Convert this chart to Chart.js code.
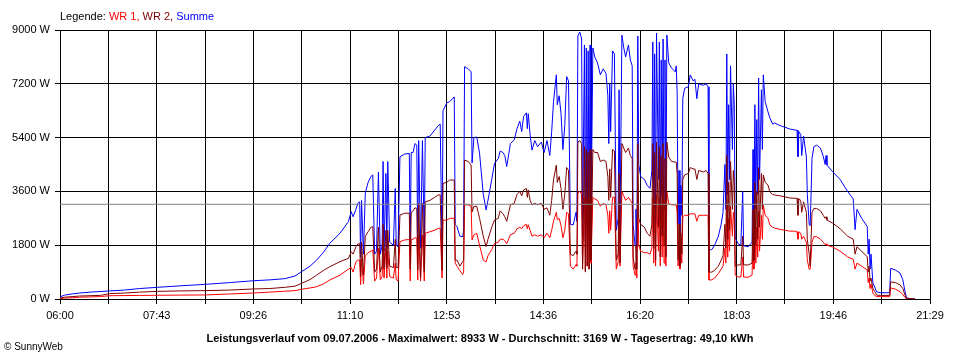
<!DOCTYPE html>
<html>
<head>
<meta charset="utf-8">
<script src="https://cdn.jsdelivr.net/npm/chart.js@4"></script>
<style>
  body { margin: 0; background: #fff; }
  #wrap { position: relative; width: 960px; height: 360px; font-family: "Liberation Sans", Arial, sans-serif; }
  #legend { position: absolute; left: 60px; top: 9px; font-size: 11px; line-height: 14px; }
  #title { position: absolute; left: 0; width: 960px; top: 331px; font-size: 11px; line-height: 14px; font-weight: bold; text-align: center; }
  #copy { position: absolute; left: 4px; top: 340px; font-size: 10px; line-height: 13px; }
</style>
</head>
<body>
<div id="wrap">
  <canvas id="chart" width="960" height="360"></canvas>
  <div id="legend">Legende: <span style="color:#ff0000">WR 1,</span> <span style="color:#800000">WR 2,</span> <span style="color:#0000ff">Summe</span></div>
  <div id="title">Leistungsverlauf vom 09.07.2006 - Maximalwert: 8933 W - Durchschnitt: 3169 W - Tagesertrag: 49,10 kWh</div>
  <div id="copy">© SunnyWeb</div>
</div>
<script>
// minutes after 06:00
const minutes = [0,5,13,21,32,43,53,69,85,104,128,155,182,206,224,240,251,258,267,274,281,288,299,308,311,313,316,318,320,321,322,324,326,329,332,334,336,338,340,342,344,345,346,348,349,350,352,356,358,359,361,363,368,373,374,375,377,379,381,382,383,385,387,389,390,395,400,404,406,408,409,413,416,421,422,424,427,430,431,432,436,439,440,442,445,448,452,455,457,461,464,468,470,473,475,477,481,485,488,491,493,495,498,499,500,502,504,507,510,514,517,520,523,525,527,530,531,533,535,537,539,541,543,545,548,551,552,553,555,557,558,560,561,562,563,564,565,566,567,569,571,574,577,580,583,585,586,587,588,590,592,594,596,597,598,600,602,604,607,609,611,612,614,615,616,617,618,620,624,627,630,632,633,634,635,636,637,639,640,641,642,643,644,645,646,647,648,650,653,657,658,659,660,661,662,663,664,665,667,671,673,676,678,680,682,687,690,692,693,696,699,703,706,708,710,711,712,713,714,715,716,718,719,720,721,724,727,729,730,735,739,740,741,742,743,744,745,746,747,749,750,751,753,756,758,761,763,769,774,779,785,787,788,789,791,792,794,797,798,800,801,802,803,805,808,812,815,817,818,819,825,833,841,847,849,851,856,862,863,864,865,866,868,870,872,876,881,886,887,892,897,900,902,904,910,913];

const wr1 = [10,30,40,60,70,80,110,115,120,125,130,135,170,200,230,260,280,325,370,410,500,635,800,1000,1050,900,1250,1300,1300,480,1350,500,1450,1550,1600,1640,600,700,1700,650,750,1900,700,1700,700,1600,750,700,1200,650,600,1920,1975,1990,600,2000,2000,2050,2030,635,2140,600,2140,600,2200,2250,2300,2365,2365,700,2640,2640,2700,2700,1200,1100,950,820,900,3150,3150,3100,1975,2150,2200,1800,1300,1240,1450,1650,1860,1900,2000,2000,1950,1850,2150,2200,2350,2400,2350,2450,2500,2350,2480,2300,2100,2150,2100,2150,2050,2200,2050,2300,2600,2900,2650,2700,2450,2050,2300,2900,2850,1100,1000,1150,1100,3550,3600,3500,1000,3400,950,3400,1100,3300,1000,3400,1200,3400,3350,3300,3100,3200,3150,2800,2200,2950,2300,3400,3400,1000,1250,2900,1100,3600,3450,3300,3400,3300,3200,1100,800,1200,700,3500,1800,1600,1550,1550,1500,1700,3400,1200,3300,1100,3500,1600,3400,1100,3200,1400,3500,1200,3300,1100,3580,3200,3150,3150,3150,2900,1100,1700,1000,1500,1200,2750,2800,2800,2850,2850,2850,2600,2800,2800,2800,2800,635,640,700,850,1000,1100,1700,1200,3200,1400,2700,1600,3100,2100,2900,2600,800,740,730,1400,730,730,800,2000,1000,2600,1200,2400,1400,2950,1600,2800,2000,3150,2800,2700,2475,2400,2370,2330,2300,2270,2270,2250,2000,2250,2200,2000,2100,1900,1300,1000,1000,1400,1900,2085,2085,2000,1900,1820,1850,1800,1740,1600,1410,1330,1000,1200,1100,970,550,700,350,500,200,120,80,80,80,80,370,330,240,150,60,10,0,0];

const wr2 = [30,60,80,100,110,120,180,200,230,255,270,280,300,335,350,390,430,525,650,800,950,1080,1250,1360,1580,1500,1750,1840,1850,750,1900,800,2100,2250,2400,2420,900,1000,2400,900,1100,2500,1000,2300,1050,2300,1100,1050,2000,1050,1050,2810,2870,2870,1000,2900,2950,3050,3030,970,3200,700,3200,900,3250,3300,3400,3480,3480,950,3870,3900,3980,3980,1300,1300,1100,1250,1300,4650,4600,4480,2910,3100,3100,2700,2100,1750,2000,2400,2640,2700,2950,2850,2750,2600,3150,3200,3500,3600,3450,3650,3700,3400,3650,3300,3150,3200,3150,3200,3000,3050,2800,3300,4000,4480,3900,4100,3700,3000,3500,4400,4300,1500,1450,1600,1500,5250,5300,5200,1000,5100,900,5000,1100,4900,1000,5000,1300,5000,4900,4900,4600,4650,4600,4100,3300,4350,3400,5000,4950,1300,1500,4200,1200,5200,5050,4900,5050,4800,4700,1400,1000,1800,1000,5200,2700,2500,2400,2200,2100,2500,5200,1700,4900,1300,5250,2400,5100,1400,4800,2100,5200,1800,4700,1400,5250,4750,4600,4580,4580,4200,1300,2500,1100,2200,1500,4000,4150,4200,4400,4350,4350,4000,4300,4250,4300,4200,900,900,960,1100,1300,1450,2500,1700,4800,2000,3900,2300,4600,3000,4300,3900,1100,1140,1140,2100,1140,1140,1200,3000,1300,3900,1800,3600,2000,4400,2400,4200,3000,4150,3900,3810,3580,3500,3480,3450,3420,3380,3370,3370,2800,3350,3300,2900,3250,2900,2000,1500,1100,2000,2900,3030,3030,2950,2800,2700,2750,2640,2540,2350,2100,2000,1500,1750,1600,1410,900,1100,600,700,350,250,130,120,120,120,570,550,470,350,150,20,0,0];

const summe = [70,130,170,200,230,250,270,300,350,390,440,490,550,610,640,680,770,915,1100,1300,1550,1860,2200,2590,2920,2750,3000,3200,3250,1400,3300,1500,3550,3900,4100,4150,1500,1600,4250,1500,1800,4600,1600,4200,1700,4600,1900,1800,3700,1800,1750,4760,4850,4870,1650,4900,4900,5200,5150,1640,5300,1700,5300,1800,5400,5450,5650,5800,5850,1640,6300,6560,6600,6760,2500,2420,2100,2085,2300,7770,7700,7600,4550,5400,5420,4880,3500,2980,3300,4000,4540,4700,4950,4900,4800,4430,5200,5320,5700,5950,5600,6100,6230,5700,6200,5500,4980,5300,5100,5250,4900,5300,4800,5600,6600,7500,6500,6800,6200,5000,5800,7440,7300,2500,2480,2900,2600,8800,8933,8700,2100,8500,1900,8400,2300,8300,2100,8500,2500,8400,8100,7900,7500,7700,7550,6800,5200,7200,5600,8300,8200,2300,2700,7000,2400,8830,8400,8100,8500,8000,7800,2500,1800,3000,1700,8800,4500,4100,4000,3800,3700,4300,8600,3000,8200,2500,8900,4000,8600,2500,8000,3500,8700,3000,8000,2500,8830,7900,7730,7600,7800,6900,2500,4300,2200,3800,2800,6700,7050,7100,7500,7300,7350,6700,7200,7150,7200,7100,1640,1650,1800,2100,2500,2900,4500,3000,8200,3500,6500,4000,7800,5000,7200,6500,2040,1850,1800,3600,1780,1750,1900,5000,2300,6500,3000,6000,3500,7390,4000,7000,5000,7500,6600,6260,6060,5850,5890,5800,5750,5690,5650,5650,4760,5600,5500,4800,5450,4750,3500,2500,2450,3500,4700,5100,5150,5050,4780,4500,4800,4480,4260,4000,3600,3350,2320,3000,2700,2420,1500,2000,1000,1500,540,400,240,210,210,210,1025,970,870,640,300,30,10,0];

const average = 3169;
const xTickLabels = ['06:00', '07:43', '09:26', '11:10', '12:53', '14:36', '16:20', '18:03', '19:46', '21:29'];
const yTickValues = [0, 1800, 3600, 5400, 7200, 9000];
const dayLength = 929; // 06:00 .. 21:29

function points(values) {
  return minutes.map((m, i) => ({ x: m, y: values[i] }));
}

const font = { family: '"Liberation Sans", Arial, sans-serif', size: 11 };

// first dataset is drawn on top: average, WR 2, WR 1, Summe
new Chart(document.getElementById('chart'), {
  type: 'line',
  data: {
    datasets: [
      { label: 'Durchschnitt', data: [{ x: 0, y: average }, { x: dayLength, y: average }], borderColor: '#808080' },
      { label: 'WR 2', data: points(wr2), borderColor: '#800000' },
      { label: 'WR 1', data: points(wr1), borderColor: '#ff0000' },
      { label: 'Summe', data: points(summe), borderColor: '#0000ff' }
    ]
  },
  options: {
    responsive: false,
    animation: false,
    events: [],
    layout: { padding: { top: 30, right: 30, left: 0, bottom: 0 } },
    elements: {
      line: { borderWidth: 1, tension: 0 },
      point: { radius: 0 }
    },
    plugins: { legend: { display: false }, tooltip: { enabled: false } },
    scales: {
      x: {
        type: 'linear',
        z: 1, // grid over the curves, like the original
        min: 0,
        max: dayLength,
        afterFit: s => { s.height = 61; },
        afterBuildTicks: s => {
          const t = [];
          for (let i = 0; i <= 18; i++) t.push({ value: i * dayLength / 18 });
          s.ticks = t;
        },
        grid: { color: '#000', lineWidth: 1, tickLength: 5 },
        border: { color: '#000', width: 1 },
        ticks: {
          autoSkip: false, maxRotation: 0, padding: 5, color: '#000', font,
          callback: (v, i) => (i % 2 === 0 ? xTickLabels[i / 2] : '')
        }
      },
      y: {
        z: 1,
        min: 0,
        max: 9000,
        afterFit: s => { s.width = 60; },
        afterBuildTicks: s => { s.ticks = yTickValues.map(v => ({ value: v })); },
        grid: { color: '#000', lineWidth: 1, tickLength: 5 },
        border: { color: '#000', width: 1 },
        ticks: { padding: 5, color: '#000', font, callback: v => v + ' W' }
      }
    }
  }
});
</script>
</body>
</html>
